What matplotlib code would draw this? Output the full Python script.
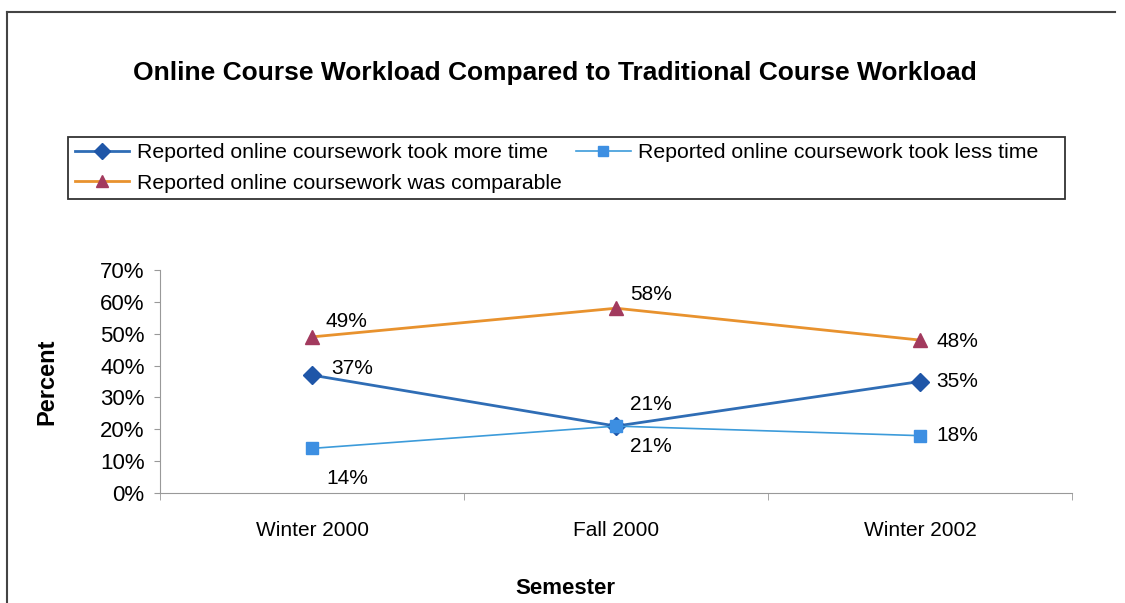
import matplotlib.pyplot as plt
from matplotlib.lines import Line2D
from matplotlib.patches import Rectangle

plt.rcParams['font.family'] = ['Liberation Sans', 'DejaVu Sans']

semesters = ["Winter 2000", "Fall 2000", "Winter 2002"]
more_time = [37, 21, 35]
less_time = [14, 21, 18]
comparable = [49, 58, 48]
yticks = [0, 10, 20, 30, 40, 50, 60, 70]

W, H = 1125, 603
fig = plt.figure(figsize=(11.25, 6.03), dpi=100)

# outer frame (top + left edges visible)
fig.add_artist(Line2D([7/W, 1115/W], [1-12/H, 1-12/H], color='#444444', lw=1.5))
fig.add_artist(Line2D([7/W, 7/W], [0, 1-12/H], color='#444444', lw=1.5))

ax = fig.add_axes([160/W, 1-493/H, 912/W, 223/H])
x = [0, 1, 2]

l1, = ax.plot(x, more_time, color='#2F6DB5', lw=2, marker='D', ms=9,
              mfc='#1F56A8', mec='#1F56A8', label='Reported online coursework took more time')
l2, = ax.plot(x, less_time, color='#3C9BDA', lw=1.2, marker='s', ms=9,
              mfc='#3D8FE2', mec='#3D8FE2', label='Reported online coursework took less time')
l3, = ax.plot(x, comparable, color='#E8922E', lw=2, marker='^', ms=10,
              mfc='#A23A5E', mec='#A23A5E', label='Reported online coursework was comparable')

fs = 15
# data labels
ax.annotate(f"{comparable[0]}%", (0, comparable[0]), xytext=(10, 4), textcoords='offset points', fontsize=fs, va='bottom')
ax.annotate(f"{comparable[1]}%", (1, comparable[1]), xytext=(10, 3), textcoords='offset points', fontsize=fs, va='bottom')
ax.annotate(f"{comparable[2]}%", (2, comparable[2]), xytext=(12, -1), textcoords='offset points', fontsize=fs, va='center')
ax.annotate(f"{more_time[0]}%", (0, more_time[0]), xytext=(14, -2), textcoords='offset points', fontsize=fs, va='bottom')
ax.annotate(f"{more_time[1]}%", (1, more_time[1]), xytext=(10, 9), textcoords='offset points', fontsize=fs, va='bottom')
ax.annotate(f"{more_time[2]}%", (2, more_time[2]), xytext=(12, 0), textcoords='offset points', fontsize=fs, va='center')
ax.annotate(f"{less_time[0]}%", (0, less_time[0]), xytext=(10, -15), textcoords='offset points', fontsize=fs, va='top')
ax.annotate(f"{less_time[1]}%", (1, less_time[1]), xytext=(10, -8), textcoords='offset points', fontsize=fs, va='top')
ax.annotate(f"{less_time[2]}%", (2, less_time[2]), xytext=(12, 0), textcoords='offset points', fontsize=fs, va='center')

ax.set_xlim(-0.5, 2.5)
ax.set_ylim(0, 70)
ax.set_yticks(yticks)
ax.set_yticklabels([f"{t}%" for t in yticks], fontsize=16)
ax.set_xticks(x)
ax.set_xticklabels(semesters, fontsize=fs)
ax.tick_params(axis='x', length=0, pad=20)
ax.set_xticks([-0.5, 0.5, 1.5, 2.5], minor=True)
ax.tick_params(axis='x', which='minor', length=5, color='#999999', direction='out')
ax.tick_params(axis='y', length=4, color='#999999', pad=7)
for s in ['top', 'right']:
    ax.spines[s].set_visible(False)
for s in ['left', 'bottom']:
    ax.spines[s].set_color('#999999')

ax.set_ylabel("Percent", fontsize=17, fontweight='bold', labelpad=30)
fig.text(565/W, 1-588/H, "Semester", fontsize=16, fontweight='bold', ha='center', va='center')
fig.text(555/W, 1-73/H, "Online Course Workload Compared to Traditional Course Workload",
         fontsize=19, fontweight='bold', ha='center', va='center')

# legend frame and entries
fig.add_artist(Rectangle((68/W, 1-199/H), 997/W, 62/H, fill=False,
                         edgecolor='#333333', lw=1.3))
fig.legend([l1, l3, l2], [l1.get_label(), l3.get_label(), l2.get_label()],
           loc='upper left', bbox_to_anchor=(75/W, 1-143/H),
           ncol=2, fontsize=15.3, frameon=False, handlelength=2.55,
           borderaxespad=0, borderpad=0, labelspacing=0.55,
           handletextpad=0.35, columnspacing=0.7, markerscale=0.85)

fig.savefig("out.png", dpi=100)
